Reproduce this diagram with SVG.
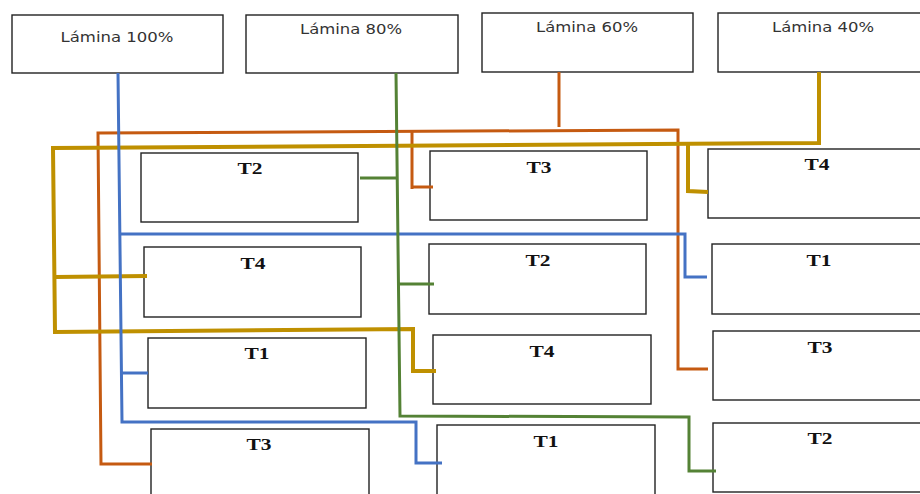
<svg xmlns="http://www.w3.org/2000/svg" width="920" height="494" viewBox="0 0 920 494">
<style>
.box{fill:#fff;stroke:#222;stroke-width:1.4}
.hd{font-family:"DejaVu Sans","Liberation Sans",sans-serif;font-size:14.5px;fill:#333;text-anchor:middle}
.t{font-family:"Liberation Serif","Times New Roman",serif;font-weight:bold;font-size:17px;fill:#111;text-anchor:middle}
.c{fill:none;stroke-linejoin:miter;stroke-linecap:butt}
.blue{stroke:#4472C4;stroke-width:3}
.orange{stroke:#C55A11;stroke-width:3}
.gold{stroke:#BF9000;stroke-width:4}
.green{stroke:#548235;stroke-width:3}
</style>
<rect width="920" height="494" fill="#fff"/>
<g id="h100"><rect class="box" x="12" y="15" width="211" height="58"/><text class="hd" x="117" y="42" textLength="113" lengthAdjust="spacingAndGlyphs">Lámina 100%</text></g>
<g id="h80"><rect class="box" x="246" y="15" width="212" height="58"/><text class="hd" x="351" y="34" textLength="102" lengthAdjust="spacingAndGlyphs">Lámina 80%</text></g>
<g id="h60"><rect class="box" x="482" y="13" width="211" height="59"/><text class="hd" x="587" y="32" textLength="102" lengthAdjust="spacingAndGlyphs">Lámina 60%</text></g>
<g id="h40"><rect class="box" x="718" y="13" width="212" height="59"/><text class="hd" x="823" y="32" textLength="102" lengthAdjust="spacingAndGlyphs">Lámina 40%</text></g>

<g id="L-T2"><rect class="box" x="141" y="153" width="217" height="69"/><text class="t" x="250" y="174" textLength="25" lengthAdjust="spacingAndGlyphs">T2</text></g>
<g id="L-T4"><rect class="box" x="144" y="247" width="217" height="70"/><text class="t" x="253" y="269" textLength="25" lengthAdjust="spacingAndGlyphs">T4</text></g>
<g id="L-T1"><rect class="box" x="148" y="338" width="218" height="70"/><text class="t" x="257" y="359" textLength="25" lengthAdjust="spacingAndGlyphs">T1</text></g>
<g id="L-T3"><rect class="box" x="151" y="429" width="218" height="70"/><text class="t" x="259" y="450" textLength="25" lengthAdjust="spacingAndGlyphs">T3</text></g>

<g id="M-T3"><rect class="box" x="430" y="151" width="217" height="69"/><text class="t" x="539" y="173" textLength="25" lengthAdjust="spacingAndGlyphs">T3</text></g>
<g id="M-T2"><rect class="box" x="429" y="244" width="217" height="70"/><text class="t" x="538" y="266" textLength="25" lengthAdjust="spacingAndGlyphs">T2</text></g>
<g id="M-T4"><rect class="box" x="433" y="335" width="218" height="69"/><text class="t" x="542" y="357" textLength="25" lengthAdjust="spacingAndGlyphs">T4</text></g>
<g id="M-T1"><rect class="box" x="437" y="425" width="218" height="72"/><text class="t" x="546" y="447" textLength="25" lengthAdjust="spacingAndGlyphs">T1</text></g>

<g id="R-T4"><rect class="box" x="708" y="149" width="220" height="69"/><text class="t" x="817" y="170" textLength="25" lengthAdjust="spacingAndGlyphs">T4</text></g>
<g id="R-T1"><rect class="box" x="712" y="244" width="216" height="70"/><text class="t" x="819" y="266" textLength="25" lengthAdjust="spacingAndGlyphs">T1</text></g>
<g id="R-T3"><rect class="box" x="713" y="331" width="215" height="69"/><text class="t" x="820" y="353" textLength="25" lengthAdjust="spacingAndGlyphs">T3</text></g>
<g id="R-T2"><rect class="box" x="713" y="423" width="215" height="69"/><text class="t" x="820" y="444" textLength="25" lengthAdjust="spacingAndGlyphs">T2</text></g>

<g id="connectors">
<polyline class="c orange" points="559,72 559,127"/>
<polyline class="c orange" points="152,464 101,464 98,133 678,130 678,369 708,369"/>
<polyline class="c orange" points="412,131 412,189"/>
<polyline class="c orange" points="411,187 433,187"/>
<polyline class="c gold" points="819,72 819,143 53,148 55,332 413,329 413,371 436,371"/>
<polyline class="c gold" points="55,277 147,276"/>
<polyline class="c gold" points="688,144 688,191 708,192"/>
<polyline class="c blue" points="118,73 122,422 416,422 416,463 442,463"/>
<polyline class="c blue" points="120,234 685,234 685,277 707,277"/>
<polyline class="c blue" points="121,373 148,373"/>
<polyline class="c green" points="396,73 400,416 689,417 689,471 716,471"/>
<polyline class="c green" points="360,178 397,178"/>
<polyline class="c green" points="398,284 434,284"/>
</g>
</svg>
